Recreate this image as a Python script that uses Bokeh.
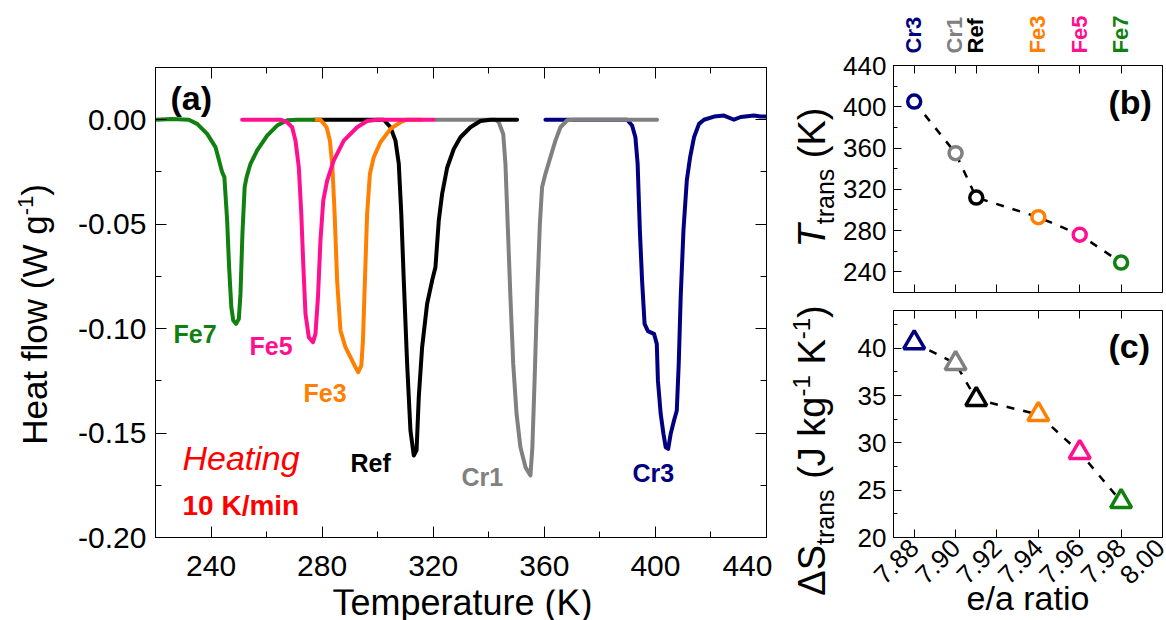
import math
from bokeh.plotting import figure
from bokeh.models import Range1d, LinearAxis, FixedTicker, PrintfTickFormatter, Label
from bokeh.layouts import row, column
from bokeh.embed import file_html
from bokeh.resources import INLINE

FONT = "Liberation Sans"

# ---------------- panel (a) data : DSC heating curves ----------------
fe7_T = [220, 226, 232.0, 235.0, 238.6, 241.6, 244.0, 244.8, 245.8, 246.5, 247.3, 248.0, 249.0,
         250.0, 250.6, 251.3, 252.1, 252.8, 254.2, 256.6, 260.2, 263.8, 267.4, 271.0, 276.8]
fe7_H = [0.0, 0.0004, 0.0, -0.0020, -0.0068, -0.0131, -0.0251, -0.0275, -0.0483, -0.0706, -0.0897,
         -0.0961, -0.0977, -0.0954, -0.0834, -0.0546, -0.0323, -0.0275, -0.0211, -0.0147, -0.0076,
         -0.0028, -0.0003, 0.0, 0.0]

fe5_T = [251.2, 265.0, 267.4, 269.2, 270.4, 271.6, 272.5, 273.2, 274.0, 275.2, 276.7, 277.6, 278.5,
         279.4, 280.4, 281.8, 284.2, 287.8, 292.6, 296.2, 299.8, 320.2]
fe5_H = [0.0, 0.0, -0.0012, -0.0036, -0.0100, -0.0227, -0.0451, -0.0690, -0.0929, -0.1041, -0.1065,
         -0.1025, -0.0850, -0.0578, -0.0387, -0.0291, -0.0195, -0.0100, -0.0036, -0.0006, 0.0, 0.0]

fe3_T = [276.8, 279.4, 281.6, 282.8, 283.7, 284.5, 285.4, 286.6, 288.4, 290.2, 291.7, 293.0, 294.1,
         294.7, 295.4, 296.2, 297.2, 298.6, 301.0, 304.6, 308.2, 310.6, 316.0]
fe3_H = [0.0, 0.0, -0.0036, -0.0100, -0.0227, -0.0451, -0.0770, -0.1009, -0.1089, -0.1137, -0.1177,
         -0.1209, -0.1177, -0.1057, -0.0770, -0.0451, -0.0259, -0.0179, -0.0108, -0.0044, -0.0012,
         0.0, 0.0]

ref_T = [277.0, 302.2, 304.6, 306.4, 307.6, 308.5, 309.4, 310.6, 311.8, 313.0, 314.0, 314.8, 316.0,
         317.8, 319.6, 320.8, 322.0, 323.2, 325.0, 327.4, 329.8, 333.4, 337.0, 340.6, 350.2]
ref_H = [0.0, 0.0, -0.0036, -0.0100, -0.0211, -0.0451, -0.0770, -0.1168, -0.1488, -0.1607, -0.1583,
         -0.1328, -0.1089, -0.0881, -0.0770, -0.0706, -0.0483, -0.0355, -0.0230, -0.0140, -0.0084,
         -0.0036, -0.0006, 0.0, 0.0]

cr1_T = [320.8, 342.4, 343.6, 345.2, 346.0, 346.9, 347.8, 348.8, 350.0, 351.4, 353.2, 355.0, 355.7,
         356.5, 357.4, 358.4, 359.2, 360.4, 362.2, 364.0, 365.8, 368.2, 370.6, 400.6]
cr1_H = [0.0, 0.0, -0.0012, -0.0068, -0.0211, -0.0530, -0.0850, -0.1168, -0.1408, -0.1568, -0.1663,
         -0.1703, -0.1568, -0.1248, -0.0850, -0.0498, -0.0323, -0.0259, -0.0179, -0.0100, -0.0036,
         -0.0003, 0.0, 0.0]

cr3_T = [360.4, 389.8, 391.6, 392.8, 393.6, 394.4, 395.2, 396.1, 397.3, 399.5, 400.5, 400.9, 401.9,
         402.9, 403.7, 404.6, 405.5, 406.7, 407.7, 408.4, 409.1, 410.1, 411.3, 412.5, 413.9, 415.7,
         417.5, 421.1, 424.7, 428.3, 430.7, 435.5, 437.9, 440.0]
cr3_H = [0.0, 0.0, -0.0028, -0.0084, -0.0211, -0.0530, -0.0770, -0.0977, -0.1012, -0.1025, -0.1073,
         -0.1248, -0.1408, -0.1504, -0.1568, -0.1576, -0.1504, -0.1440, -0.1392, -0.1168, -0.0850,
         -0.0530, -0.0291, -0.0179, -0.0084, -0.0020, 0.0, 0.0015, 0.0020, 0.0, 0.0013, 0.0020,
         0.0015, 0.0015]

# ---------------- panels (b) and (c) data ----------------
samples = ["Cr3", "Cr1", "Ref", "Fe3", "Fe5", "Fe7"]
ea_ratio = [7.88, 7.90, 7.91, 7.94, 7.96, 7.98]
T_trans = [405, 355, 312, 293, 276, 249]
dS_trans = [40.6, 38.4, 34.6, 33.0, 29.0, 23.8]

# tick values
a_xticks = [240, 280, 320, 360, 400, 440]
a_xminor = [220, 260, 300, 340, 380, 420]
a_yticks = [-0.20, -0.15, -0.10, -0.05, 0.00]
a_yminor = [-0.175, -0.125, -0.075, -0.025, 0.025]
b_yticks = [240, 280, 320, 360, 400, 440]
b_yminor = [220, 260, 300, 340, 380, 420]
c_yticks = [20, 25, 30, 35, 40]
c_yminor = [22.5, 27.5, 32.5, 37.5, 42.5]
ea_ticks = [7.88, 7.90, 7.92, 7.94, 7.96, 7.98, 8.00]
EA_RANGE = (7.87, 8.00)

NAVY, GRAY, BLACK, ORANGE, PINK, GREEN, RED = ("#000080", "#808080", "#000000", "#ff8000",
                                                "#ff1090", "#108010", "#ff0000")
sample_colors = [NAVY, GRAY, BLACK, ORANGE, PINK, GREEN]

# ---------------- layout geometry (page pixels) ----------------
A_L, A_R, A_T, A_B = 155, 766, 67, 537
B_L, B_R, B_T, B_B = 892, 1162, 65, 292
C_L, C_R, C_T, C_B = 892, 1162, 310, 537
H_ALL = 620
SA_W = 66                  # strip left of panel (a): y title
PA_X, PA_W = SA_W, 772 - SA_W
PA_H = 589                 # panel (a) canvas height; strip with x title below
SB_X, SB_W = 772, 68       # strip between (a) and (b)/(c): y titles
RC_X = SB_X + SB_W         # right column x
RC_W = 1166 - RC_X
ST_H = 54                  # strip above (b): sample names
PB_Y, PB_H = ST_H, 293 - ST_H
PC_Y, PC_H = 293, H_ALL - 293

AW = {' ': 278, '(': 333, ')': 333, '-': 333, '/': 278, '.': 278, 'H': 722, 'e': 556, 'a': 556,
      't': 278, 'f': 278, 'l': 222, 'o': 556, 'w': 722, 'W': 944, 'g': 556, 'T': 611, 'r': 333,
      'n': 556, 's': 500, 'K': 667, 'J': 500, 'k': 500, 'S': 667, '\u0394': 668, '1': 556,
      'i': 222, 'm': 833, 'p': 556, 'u': 556}


def tw(s, size):
    return sum(AW.get(ch, 556) for ch in s) / 1000.0 * size


def style_axis(ax, size, tick_in, minor_in, standoff):
    ax.axis_line_color = "black"
    ax.axis_line_width = 1
    ax.major_tick_line_color = "black"
    ax.minor_tick_line_color = "black"
    ax.major_tick_in = tick_in
    ax.major_tick_out = 0
    ax.minor_tick_in = minor_in
    ax.minor_tick_out = 0
    ax.major_label_text_font = FONT
    ax.major_label_text_font_size = size
    ax.major_label_text_color = "black"
    ax.major_label_standoff = standoff


def style_axis_label(ax, text, size, standoff):
    ax.axis_label = text
    ax.axis_label_text_font = FONT
    ax.axis_label_text_font_size = size
    ax.axis_label_text_font_style = "normal"
    ax.axis_label_text_color = "black"
    ax.axis_label_standoff = standoff


def blank_axis(ticks, minor, tick_in, minor_in):
    ax = LinearAxis(ticker=FixedTicker(ticks=ticks, minor_ticks=minor))
    style_axis(ax, "0px", tick_in, minor_in, 0)
    return ax


def base_fig(w, h, xr, yr, bl, br, bt, bb):
    p = figure(width=w, height=h, x_range=Range1d(*xr), y_range=Range1d(*yr),
               output_backend="svg", toolbar_location=None,
               min_border_left=bl, min_border_right=br, min_border_top=bt, min_border_bottom=bb)
    p.grid.visible = False
    p.outline_line_color = "black"
    p.outline_line_width = 1
    p.background_fill_color = "white"
    p.border_fill_color = "white"
    return p


def strip_fig(w, h):
    s = figure(width=w, height=h, x_range=Range1d(0, 1), y_range=Range1d(0, 1),
               output_backend="svg", toolbar_location=None, x_axis_location=None,
               y_axis_location=None, min_border=0)
    s.grid.visible = False
    s.outline_line_color = None
    s.background_fill_color = "white"
    s.border_fill_color = "white"
    return s


def add_text(p, org, px, py, text, size, color="black", style="normal", align="left",
             baseline="middle", angle=0.0):
    # px, py: page pixel position; org: page position of the figure's canvas
    p.add_layout(Label(x=px - org[0], y=py - org[1], x_units="canvas", y_units="canvas",
                       text=text, text_font=FONT, text_font_size=f"{size}px",
                       text_font_style=style, text_color=color, text_align=align,
                       text_baseline=baseline, angle=angle))


def vlabel(p, org, pieces, base_x, center_y):
    # vertical (rotated 90 deg) title built from pieces; base_x = baseline x of main text
    total = sum(tw(t, s) for t, s, sh, st in pieces)
    y = center_y + total / 2.0
    for t, s, sh, st in pieces:
        body = t.lstrip(" ")
        y -= tw(t[:len(t) - len(body)], s)       # leading spaces are advanced, not drawn
        add_text(p, org, base_x + sh - 0.358 * s, y, body, s, style=st, align="left",
                 baseline="middle", angle=math.pi / 2)
        y -= tw(body, s)


def ea_px(v):
    return B_L + (v - EA_RANGE[0]) / (EA_RANGE[1] - EA_RANGE[0]) * (B_R - B_L)


# ================= strip with the y title of (a) =================
sa = strip_fig(SA_W, H_ALL)
vlabel(sa, (0, 0), [("Heat flow (W g", 35, 0, "normal"), ("-1", 22, -14, "normal"),
                    (")", 35, 0, "normal")], 46.5, 314)

# ================= panel (a) =================
oa = (PA_X, 0)
pa = base_fig(PA_W, PA_H, (220, 440), (-0.20, 0.025), A_L - PA_X, (PA_X + PA_W) - A_R, A_T,
              PA_H - A_B)
pa.xaxis.ticker = FixedTicker(ticks=a_xticks, minor_ticks=a_xminor)
pa.yaxis.ticker = FixedTicker(ticks=a_yticks, minor_ticks=a_yminor)
pa.yaxis.formatter = PrintfTickFormatter(format="%.2f")
style_axis(pa.xaxis[0], "30px", 11, 6, 18)
style_axis(pa.yaxis[0], "30px", 11, 6, 9)
pa.add_layout(blank_axis(a_xticks, a_xminor, 11, 6), "above")
pa.add_layout(blank_axis(a_yticks, a_yminor, 11, 6), "right")

for T, H, c in [(cr3_T, cr3_H, NAVY), (cr1_T, cr1_H, GRAY), (ref_T, ref_H, BLACK),
                (fe3_T, fe3_H, ORANGE), (fe7_T, fe7_H, GREEN), (fe5_T, fe5_H, PINK)]:
    pa.line(T, H, line_color=c, line_width=4, line_join="round", line_cap="round")

add_text(pa, oa, 170, 97, "(a)", 34, style="bold")
add_text(pa, oa, 173, 333, "Fe7", 25, GREEN, "bold")
add_text(pa, oa, 249, 345, "Fe5", 25, PINK, "bold")
add_text(pa, oa, 303, 392, "Fe3", 25, ORANGE, "bold")
add_text(pa, oa, 350, 462, "Ref", 25, BLACK, "bold")
add_text(pa, oa, 461, 476, "Cr1", 25, GRAY, "bold")
add_text(pa, oa, 632, 472, "Cr3", 25, NAVY, "bold")
add_text(pa, oa, 182, 457, "Heating", 34, RED, "italic")
add_text(pa, oa, 182, 505, "10 K/min", 28, RED, "bold")

# strip with the x title of (a)
sx = strip_fig(PA_W, H_ALL - PA_H)
add_text(sx, (PA_X, PA_H), 462, 601.5, "Temperature (K)", 36, align="center", baseline="middle")

# ================= strip with the y titles of (b) and (c) =================
sb = strip_fig(SB_W, H_ALL)
ob = (SB_X, 0)
vlabel(sb, ob, [("T", 38, 0, "italic"), ("trans", 25, 8, "normal"), (" (K)", 38, 0, "normal")],
       825, 177)
vlabel(sb, ob, [("\u0394S", 38, 0, "normal"), ("trans", 25, 8, "normal"),
                (" (J kg", 38, 0, "normal"), ("-1", 24, -15, "normal"),
                (" K", 38, 0, "normal"), ("-1", 24, -15, "normal"), (")", 38, 0, "normal")],
       825, 450)

# ================= strip with sample names above (b) =================
st = strip_fig(RC_W, ST_H)
for xv, name, c in zip(ea_ratio, samples, sample_colors):
    add_text(st, (RC_X, 0), ea_px(xv), 53, name, 22, c, "bold", align="left",
             baseline="middle", angle=math.pi / 2)

# ================= panel (b) =================
pb = base_fig(RC_W, PB_H, EA_RANGE, (220, 440), B_L - RC_X, (RC_X + RC_W) - B_R, B_T - PB_Y,
              (PB_Y + PB_H) - B_B)
pb.xaxis.ticker = FixedTicker(ticks=ea_ticks[:-1], minor_ticks=[])
pb.yaxis.ticker = FixedTicker(ticks=b_yticks, minor_ticks=b_yminor)
style_axis(pb.xaxis[0], "0px", 8, 4, 0)
style_axis(pb.yaxis[0], "26px", 8, 4, 7)
pb.add_layout(blank_axis(ea_ratio, [], 8, 4), "above")

pb.line(ea_ratio, T_trans, line_color="black", line_width=2.5, line_dash="8 9")
pb.scatter(ea_ratio, T_trans, marker="circle", size=13, line_width=3.5,
           line_color=sample_colors, fill_color="white")
add_text(pb, (RC_X, PB_Y), 1108, 101, "(b)", 34, style="bold")

# ================= panel (c) =================
pc = base_fig(RC_W, PC_H, EA_RANGE, (20, 44), C_L - RC_X, (RC_X + RC_W) - C_R, C_T - PC_Y,
              (PC_Y + PC_H) - C_B)
pc.xaxis.ticker = FixedTicker(ticks=ea_ticks, minor_ticks=[])
pc.xaxis.formatter = PrintfTickFormatter(format="%.2f")
pc.xaxis.major_label_orientation = math.pi / 4
pc.yaxis.ticker = FixedTicker(ticks=c_yticks, minor_ticks=c_yminor)
style_axis(pc.xaxis[0], "26px", 8, 4, 6)
style_axis(pc.yaxis[0], "26px", 8, 4, 7)
style_axis_label(pc.xaxis[0], "e/a ratio", "34px", -16)
pc.add_layout(blank_axis(ea_ratio, [], 8, 4), "above")

pc.line(ea_ratio, dS_trans, line_color="black", line_width=2.5, line_dash="8 9")
pc.scatter(ea_ratio, dS_trans, marker="triangle", size=21, line_width=3.5,
           line_color=sample_colors, fill_color="white")
add_text(pc, (RC_X, PC_Y), 1108, 345, "(c)", 34, style="bold")

layout = row(sa, column(pa, sx), sb, column(st, pb, pc))
open("out.html", "w").write(file_html(layout, INLINE))
